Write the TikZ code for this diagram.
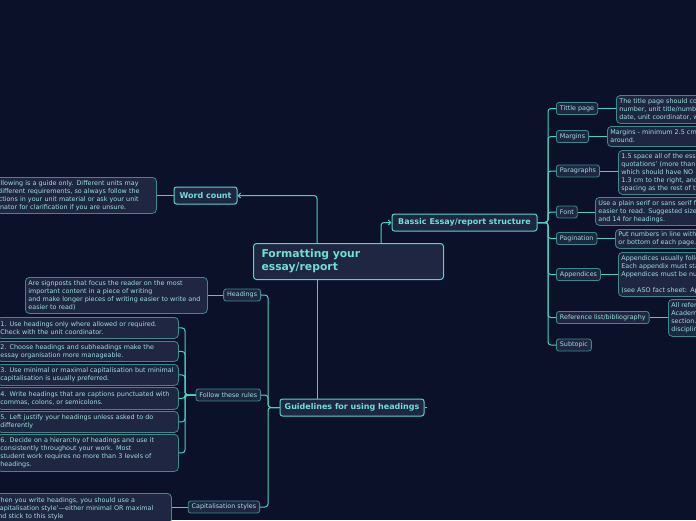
\documentclass[tikz,border=0pt]{standalone}
\usepackage{fontspec}
\setmainfont{DejaVu Sans}
\usetikzlibrary{arrows.meta}
\definecolor{bg}{HTML}{0B1128}
\definecolor{fillc}{HTML}{1E2642}
\definecolor{mainb}{HTML}{55D6CA}
\definecolor{subb}{HTML}{3D8A8C}
\definecolor{maint}{HTML}{6EE0D4}
\definecolor{subt}{HTML}{9FE0DA}
\definecolor{linec}{HTML}{4CCFC3}
\tikzset{
  rootnode/.style={draw=mainb, line width=1pt, fill=fillc, rounded corners=3pt, text=maint,
    font=\fontsize{10.8}{13}\selectfont\bfseries, align=left, text width=174pt,
    minimum height=36pt, inner xsep=8pt, inner ysep=2pt},
  mainnode/.style={draw=mainb, line width=1pt, fill=fillc, rounded corners=2.5pt, text=maint,
    font=\fontsize{8}{9}\selectfont\bfseries, minimum height=17pt, inner xsep=4pt, inner ysep=1pt},
  labelnode/.style={draw=subb, line width=0.8pt, fill=fillc, rounded corners=2.5pt, text=subt,
    font=\fontsize{6.4}{7}\selectfont, minimum height=12pt, inner xsep=3.5pt, inner ysep=1pt},
  textnode/.style={draw=subb, line width=0.8pt, fill=fillc, rounded corners=4pt, text=subt,
    font=\fontsize{6.4}{8}\selectfont, align=left, inner xsep=3pt, inner ysep=1pt},
  conn/.style={draw=linec, line width=1pt, rounded corners=3pt},
  arr/.style={conn, -{Straight Barb[length=2.5pt,width=5pt]}}
}
\begin{document}
\begin{tikzpicture}[x=1pt,y=-1pt]
\useasboundingbox (0,0) rectangle (696,520);
\clip (0,0) rectangle (696,520);
\fill[bg] (0,0) rectangle (696,520);

% spine coordinates
\coordinate (xw) at (317,0);
\coordinate (xb) at (381,0);
\coordinate (rsp) at (548,0);
\coordinate (lsp) at (268,0);
\coordinate (rsub) at (185,0);
\coordinate (gstub) at (427,407.5);

% main nodes
\node[rootnode, anchor=north west] (root) at (253,243) {Formatting your\\essay/report};
\node[mainnode, minimum width=145pt] (basic) at (464.5,222.5) {Bassic Essay/report structure};
\node[mainnode, minimum width=63pt] (word) at (205.5,195.5) {Word count};
\node[mainnode, minimum width=144pt] (guide) at (352,407.5) {Guidelines for using headings};

% word count text
\node[textnode, anchor=north west, text width=173pt, minimum height=36pt] (wordtxt) at (-23,177)
 {The following is a guide only. Different units may\\have different requirements, so always follow the\\instructions in your unit material or ask your unit\\coordinator for clarification if you are unsure.};

% right labels
\node[labelnode, anchor=west] (title) at (556,108.5) {Tittle page};
\node[labelnode, anchor=west] (marg) at (556,136.5) {Margins};
\node[labelnode, anchor=west] (para) at (556,171) {Paragraphs};
\node[labelnode, anchor=west] (font) at (556,212) {Font};
\node[labelnode, anchor=west] (pag) at (556,238.5) {Pagination};
\node[labelnode, anchor=west] (app) at (556,274.5) {Appendices};
\node[labelnode, anchor=west] (ref) at (556,317.5) {Reference list/bibliography};
\node[labelnode, anchor=west] (subt) at (556,345) {Subtopic};

% right texts
\node[textnode, anchor=north west, text width=130pt, minimum height=28pt] (titletxt) at (616,95)
 {The title page should contain\\number, unit title/number,\\date, unit coordinator, word};
\node[textnode, anchor=north west, text width=130pt, minimum height=20pt] (margtxt) at (607,126)
 {Margins - minimum 2.5 cm all\\around.};
\node[textnode, anchor=north west, text width=130pt, minimum height=44pt] (paratxt) at (618,150)
 {1.5 space all of the essay\\quotations' (more than\\which should have NO\\1.3 cm to the right, and\\spacing as the rest of the};
\node[textnode, anchor=north west, text width=130pt, minimum height=28pt] (fonttxt) at (595,197)
 {Use a plain serif or sans serif font\\easier to read. Suggested size\\and 14 for headings.};
\node[textnode, anchor=north west, text width=130pt, minimum height=19pt] (pagtxt) at (615,229)
 {Put numbers in line with\\or bottom of each page.};
\node[textnode, anchor=north west, text width=130pt, minimum height=44pt] (apptxt) at (618,252)
 {Appendices usually follow\\Each appendix must start\\Appendices must be numbered\\[8pt](see ASO fact sheet: Appendices};
\node[textnode, anchor=north west, text width=130pt, minimum height=37pt] (reftxt) at (668,299)
 {All references\\Academic\\section.\\discipline};

% left labels
\node[labelnode, anchor=east] (head) at (261,295) {Headings};
\node[labelnode, anchor=east] (follow) at (261,395) {Follow these rules};
\node[labelnode, anchor=east] (cap) at (260,507) {Capitalisation styles};

% left texts
\node[textnode, anchor=north west, text width=176pt, minimum height=36pt] (headtxt) at (25,277)
 {Are signposts that focus the reader on the most\\important content in a piece of writing\\and make longer pieces of writing easier to write and\\easier to read)};
\node[textnode, anchor=north west, text width=174pt, minimum height=30pt] (captxt) at (-9,493)
 {When you write headings, you should use a\\'capitalisation style'—either minimal OR maximal\\and stick to this style};
\node[textnode, anchor=north west, text width=175pt, minimum height=21pt] (r1) at (-3,317)
 {1. Use headings only where allowed or required.\\Check with the unit coordinator.};
\node[textnode, anchor=north west, text width=175pt, minimum height=20pt] (r2) at (-3,341)
 {2. Choose headings and subheadings make the\\essay organisation more manageable.};
\node[textnode, anchor=north west, text width=175pt, minimum height=21pt] (r3) at (-3,364)
 {3. Use minimal or maximal capitalisation but minimal\\capitalisation is usually preferred.};
\node[textnode, anchor=north west, text width=175pt, minimum height=22pt] (r4) at (-3,387)
 {4. Write headings that are captions punctuated with\\commas, colons, or semicolons.};
\node[textnode, anchor=north west, text width=175pt, minimum height=21pt] (r5) at (-3,411)
 {5. Left justify your headings unless asked to do\\differently};
\node[textnode, anchor=north west, text width=175pt, minimum height=37pt] (r6) at (-3,434)
 {6. Decide on a hierarchy of headings and use it\\consistently throughout your work. Most\\student work requires no more than 3 levels of\\headings.};

% main connectors
\draw[arr] (root.north -| xw) |- (word.east);
\draw[arr] (root.north -| xb) |- (basic.west);
\draw[conn] (root.south -| xw) -- (guide.north -| xw);
\draw[conn] (guide.east) -- (gstub);
\draw[conn] (word.west) -- (word.west -| wordtxt.east);

% right spine
\foreach \n in {title,marg,para,font,pag,app,ref,subt}{
  \draw[conn] (basic.east) -- (basic.east -| rsp) |- (\n.west);
}
\draw[conn] (title.east) -- (title.east -| titletxt.west);
\draw[conn] (marg.east) -- (marg.east -| margtxt.west);
\draw[conn] (para.east) -- (para.east -| paratxt.west);
\draw[conn] (font.east) -- (font.east -| fonttxt.west);
\draw[conn] (pag.east) -- (pag.east -| pagtxt.west);
\draw[conn] (app.east) -- (app.east -| apptxt.west);
\draw[conn] (ref.east) -- (ref.east -| reftxt.west);

% left spine
\foreach \n in {head,follow,cap}{
  \draw[conn] (guide.west) -- (guide.west -| lsp) |- (\n.east);
}
\draw[conn] (head.west) -- (head.west -| headtxt.east);
\draw[conn] (cap.west) -- (cap.west -| captxt.east);
\foreach \n in {r1,r2,r3,r4,r5,r6}{
  \draw[conn] (follow.west) -- (follow.west -| rsub) |- (\n.east);
}
\end{tikzpicture}
\end{document}
